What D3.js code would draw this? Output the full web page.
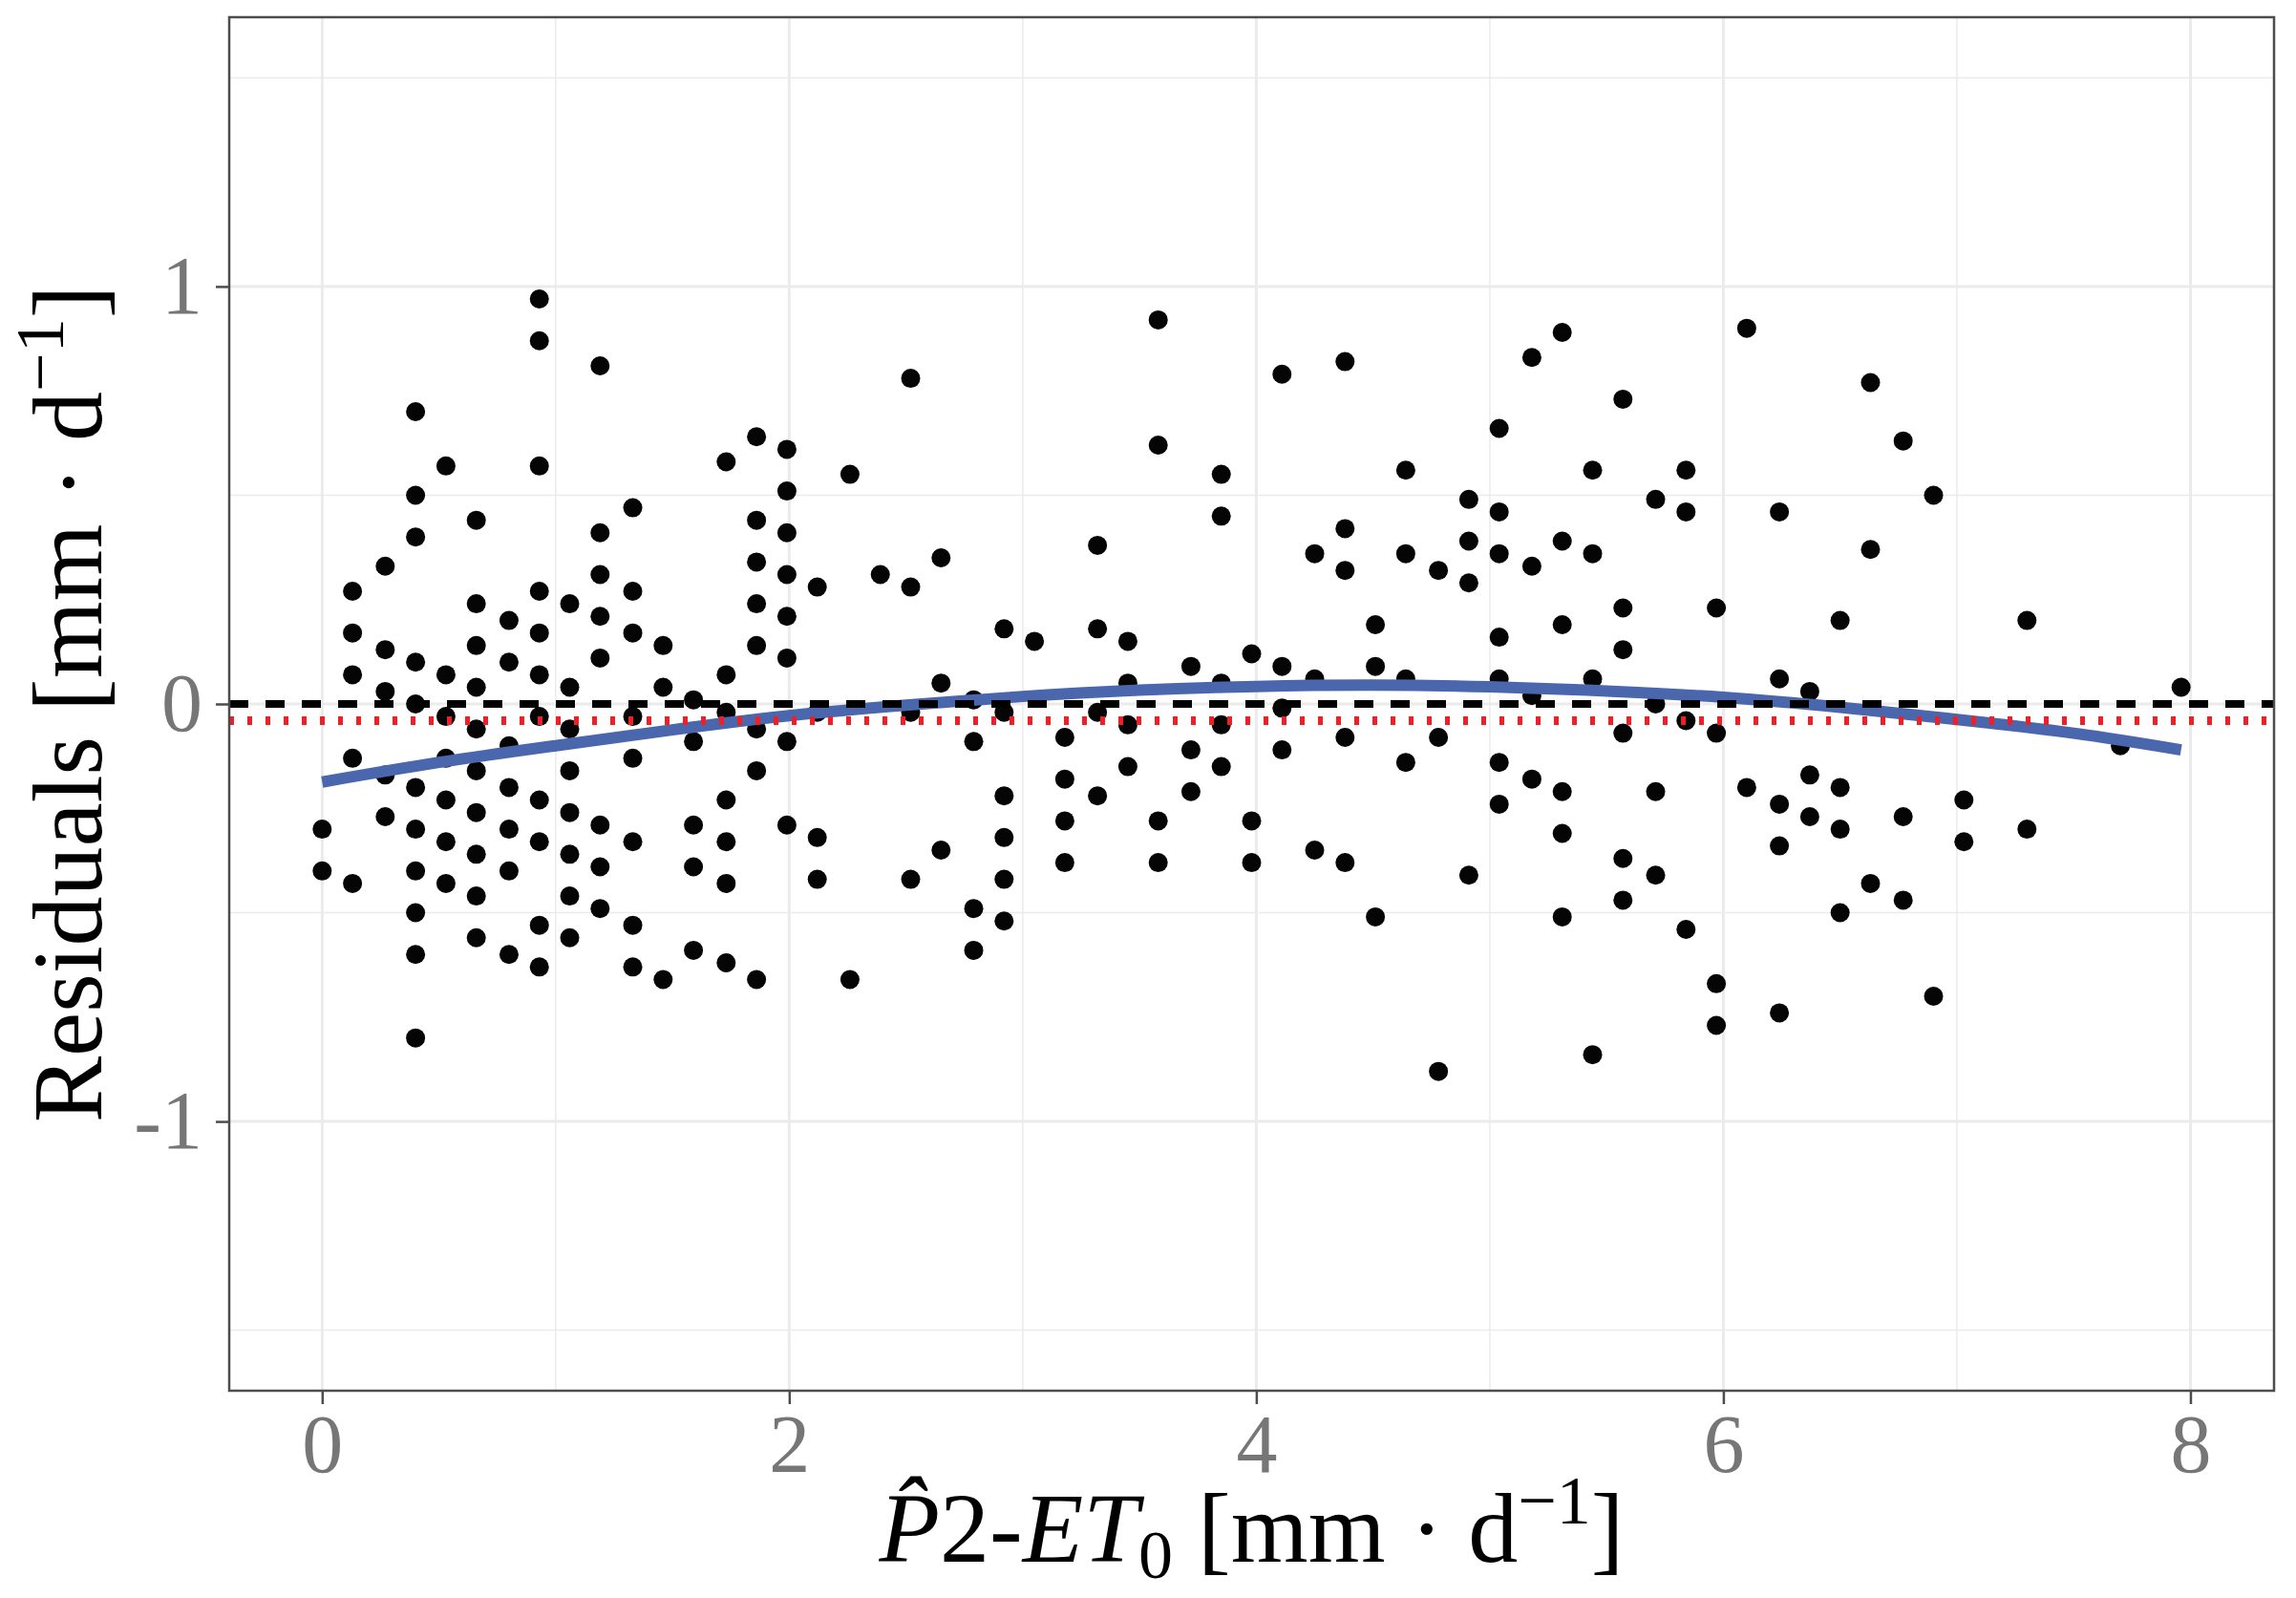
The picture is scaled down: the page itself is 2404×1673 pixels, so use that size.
<!DOCTYPE html>
<html>
<head>
<meta charset="utf-8">
<script src="https://cdn.jsdelivr.net/npm/d3@7"></script>
<style>
  body { margin: 0; background: #fff; }
  text { font-family: "Liberation Serif", "DejaVu Serif", serif; }
</style>
</head>
<body>
<div id="plotdiv"></div>
<script>
// fitted ET0 per column of points (x axis)
const fittedX = [0.00, 0.13, 0.27, 0.40, 0.53, 0.66, 0.80, 0.93, 1.06, 1.19,
                 1.33, 1.46, 1.59, 1.73, 1.86, 1.99, 2.12, 2.26, 2.39, 2.52,
                 2.65, 2.79, 2.92, 3.05, 3.18, 3.32, 3.45, 3.58, 3.72, 3.85,
                 3.98, 4.11, 4.25, 4.38, 4.51, 4.64, 4.78, 4.91, 5.04, 5.18,
                 5.31, 5.44, 5.57, 5.71, 5.84, 5.97, 6.10, 6.24, 6.37, 6.50,
                 6.63, 6.77, 6.90, 7.03, 7.30, 7.70, 7.96];

// residuals, one list per column above
const residualCols = [
  [-0.30, -0.40],
  [0.27, 0.17, 0.07, -0.13, -0.43],
  [0.33, 0.13, 0.03, -0.17, -0.27],
  [0.70, 0.50, 0.40, 0.10, 0.00, -0.20, -0.30, -0.40, -0.50, -0.60, -0.80],
  [0.57, 0.07, -0.03, -0.13, -0.23, -0.33, -0.43],
  [0.44, 0.24, 0.14, 0.04, -0.06, -0.16, -0.26, -0.36, -0.46, -0.56],
  [0.20, 0.10, -0.10, -0.20, -0.30, -0.40, -0.60],
  [0.97, 0.87, 0.57, 0.27, 0.17, 0.07, -0.03, -0.23, -0.33, -0.53, -0.63],
  [0.24, 0.04, -0.06, -0.16, -0.26, -0.36, -0.46, -0.56],
  [0.81, 0.41, 0.31, 0.21, 0.11, -0.29, -0.39, -0.49],
  [0.47, 0.27, 0.17, -0.03, -0.13, -0.33, -0.53, -0.63],
  [0.14, 0.04, -0.66],
  [0.01, -0.09, -0.29, -0.39, -0.59],
  [0.58, 0.07, -0.02, -0.23, -0.33, -0.43, -0.62],
  [0.64, 0.44, 0.34, 0.24, 0.14, -0.06, -0.16, -0.66],
  [0.61, 0.51, 0.41, 0.31, 0.21, 0.11, -0.09, -0.29],
  [0.28, -0.02, -0.32, -0.42],
  [0.55, -0.66],
  [0.31],
  [0.78, 0.28, -0.02, -0.42],
  [0.35, 0.05, -0.35],
  [0.01, -0.09, -0.49, -0.59],
  [0.18, -0.02, -0.22, -0.32, -0.42, -0.52],
  [0.15],
  [-0.08, -0.18, -0.28, -0.38],
  [0.38, 0.18, -0.02, -0.22],
  [0.15, 0.05, -0.05, -0.15],
  [0.92, 0.62, -0.28, -0.38],
  [0.09, -0.11, -0.21],
  [0.55, 0.45, 0.05, -0.05, -0.15],
  [0.12, -0.28, -0.38],
  [0.79, 0.09, -0.01, -0.11],
  [0.36, 0.06, -0.35],
  [0.82, 0.42, 0.32, -0.08, -0.38],
  [0.19, 0.09, -0.51],
  [0.56, 0.36, 0.06, -0.14],
  [0.32, -0.08, -0.88],
  [0.49, 0.39, 0.29, -0.41],
  [0.66, 0.46, 0.36, 0.16, 0.06, -0.14, -0.24],
  [0.83, 0.33, 0.02, -0.18],
  [0.89, 0.39, 0.19, -0.21, -0.31, -0.51],
  [0.56, 0.36, 0.06, -0.84],
  [0.73, 0.23, 0.13, -0.07, -0.37, -0.47],
  [0.49, 0.00, -0.21, -0.41],
  [0.56, 0.46, -0.04, -0.54],
  [0.23, -0.07, -0.67, -0.77],
  [0.90, -0.20],
  [0.46, 0.06, -0.24, -0.34, -0.74],
  [0.03, -0.17, -0.27],
  [0.20, -0.20, -0.30, -0.50],
  [0.77, 0.37, -0.43],
  [0.63, -0.27, -0.47],
  [0.50, -0.70],
  [-0.23, -0.33],
  [0.20, -0.30],
  [-0.10],
  [0.04]
];

// smooth trend line (blue), read at these x positions
const trendX = [0, 0.5, 1, 1.5, 2, 2.5, 3, 3.5, 4, 4.5, 5, 5.5, 6, 6.5, 7, 7.5, 7.96];
const trendY = [-0.187, -0.14, -0.10, -0.062, -0.028, -0.003, 0.018, 0.033, 0.042, 0.045,
                0.041, 0.031, 0.016, -0.008, -0.037, -0.070, -0.110];

const meanResidual = -0.04;

const xTicks = [0, 2, 4, 6, 8];
const xMinor = [1, 3, 5, 7];
const yTicks = [-1, 0, 1];
const yMinor = [-1.5, -0.5, 0.5, 1.5];

var width = 2404, height = 1673;
var panel = { left: 240, right: 2381, top: 18, bottom: 1456 };

const svg = d3.select("#plotdiv").append("svg")
    .attr("width", width)
    .attr("height", height);

var x = d3.scaleLinear().domain([-0.398, 8.358]).range([panel.left, panel.right]);
var y = d3.scaleLinear().domain([-1.645, 1.645]).range([panel.bottom, panel.top]);

// flatten the columns into points
var points = [];
residualCols.forEach(function(col, i) {
    col.forEach(function(r) { points.push({ x: fittedX[i], y: r }); });
});

// grid
var grid = svg.append("g");
grid.selectAll(".xminor").data(xMinor).join("line")
    .attr("x1", d => x(d)).attr("x2", d => x(d))
    .attr("y1", panel.top).attr("y2", panel.bottom)
    .style("stroke", "#ebebeb").style("stroke-width", 1.5);
grid.selectAll(".yminor").data(yMinor).join("line")
    .attr("y1", d => y(d)).attr("y2", d => y(d))
    .attr("x1", panel.left).attr("x2", panel.right)
    .style("stroke", "#ebebeb").style("stroke-width", 1.5);
grid.selectAll(".xmajor").data(xTicks).join("line")
    .attr("x1", d => x(d)).attr("x2", d => x(d))
    .attr("y1", panel.top).attr("y2", panel.bottom)
    .style("stroke", "#ebebeb").style("stroke-width", 3);
grid.selectAll(".ymajor").data(yTicks).join("line")
    .attr("y1", d => y(d)).attr("y2", d => y(d))
    .attr("x1", panel.left).attr("x2", panel.right)
    .style("stroke", "#ebebeb").style("stroke-width", 3);

// points
svg.append("g").selectAll("circle")
    .data(points)
    .join("circle")
    .attr("cx", d => x(d.x))
    .attr("cy", d => y(d.y))
    .attr("r", 10)
    .style("fill", "#050505");

// trend curve
var trend = trendX.map((v, i) => [v, trendY[i]]);
svg.append("path")
    .datum(trend)
    .attr("d", d3.line().x(d => x(d[0])).y(d => y(d[1])).curve(d3.curveNatural))
    .style("fill", "none")
    .style("stroke", "#4a66ac")
    .style("stroke-width", 12);

// zero line and mean residual line
svg.append("line")
    .attr("x1", panel.left).attr("x2", panel.right)
    .attr("y1", y(0)).attr("y2", y(0))
    .style("stroke", "#000").style("stroke-width", 8)
    .style("stroke-dasharray", "20 18");
svg.append("line")
    .attr("x1", panel.left).attr("x2", panel.right)
    .attr("y1", y(meanResidual)).attr("y2", y(meanResidual))
    .style("stroke", "#ee1f26").style("stroke-width", 9)
    .style("stroke-dasharray", "5 14");

// panel border
svg.append("rect")
    .attr("x", panel.left).attr("y", panel.top)
    .attr("width", panel.right - panel.left)
    .attr("height", panel.bottom - panel.top)
    .style("fill", "none")
    .style("stroke", "#4d4d4d")
    .style("stroke-width", 2.5);

// axes
var xAxis = svg.append("g")
    .attr("transform", "translate(0," + panel.bottom + ")")
    .call(d3.axisBottom(x).tickValues(xTicks).tickSize(14).tickPadding(10).tickFormat(d3.format("d")));
var yAxis = svg.append("g")
    .attr("transform", "translate(" + panel.left + ",0)")
    .call(d3.axisLeft(y).tickValues(yTicks).tickSize(14).tickPadding(14).tickFormat(d => d < 0 ? "-" + Math.abs(d) : d));

[xAxis, yAxis].forEach(function(a) {
    a.select(".domain").remove();
    a.selectAll("line").style("stroke", "#4d4d4d").style("stroke-width", 2.5);
    a.selectAll("text")
        .style("font-family", "'Liberation Serif', serif")
        .style("font-size", "86px")
        .style("fill", "#767676");
});

// x title: P-hat 2-ET0 [mm . d^-1]
var xt = svg.append("text")
    .attr("x", (panel.left + panel.right) / 2)
    .attr("y", 1635)
    .attr("text-anchor", "middle")
    .style("font-size", "104px")
    .style("fill", "#000");
xt.append("tspan").style("font-style", "italic").text("P\u0302");
xt.append("tspan").text("2-");
xt.append("tspan").style("font-style", "italic").text("ET");
xt.append("tspan").attr("dy", 17).style("font-size", "72px").text("0");
xt.append("tspan").attr("dy", -17).text(" [mm \u00b7 d");
xt.append("tspan").attr("dy", -40).style("font-size", "72px").text("\u22121");
xt.append("tspan").attr("dy", 40).text("]");

// y title
var yt = svg.append("text")
    .attr("transform", "translate(106," + ((panel.top + panel.bottom) / 2) + ") rotate(-90)")
    .attr("text-anchor", "middle")
    .style("font-size", "104px")
    .style("fill", "#000");
yt.append("tspan").text("Residuals [mm \u00b7 d");
yt.append("tspan").attr("dy", -40).style("font-size", "72px").text("\u22121");
yt.append("tspan").attr("dy", 40).text("]");
</script>
</body>
</html>
